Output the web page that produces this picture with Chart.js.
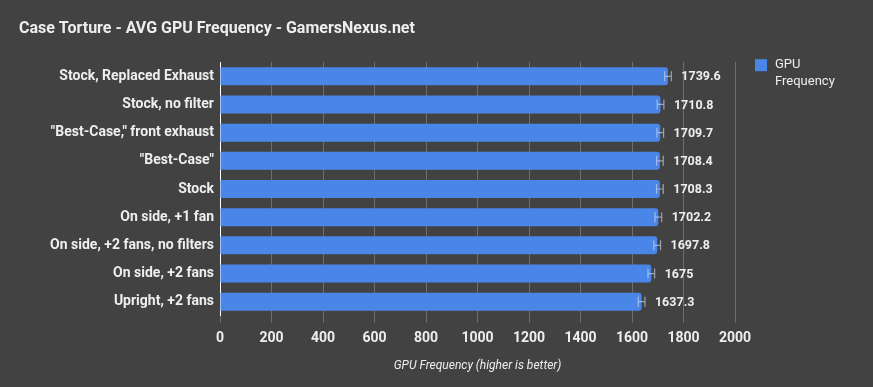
<!DOCTYPE html>
<html>
<head>
<meta charset="utf-8">
<script src="https://cdn.jsdelivr.net/npm/chart.js@4.4.0/dist/chart.umd.min.js"></script>
<style>
  html, body { margin: 0; padding: 0; background: #424242; }
  #wrap { width: 873px; height: 387px; }
</style>
</head>
<body>
<div id="wrap"><canvas id="chart" width="873" height="387"></canvas></div>
<script>
const categories = [
    'Stock, Replaced Exhaust',
    'Stock, no filter',
    '"Best-Case," front exhaust',
    '"Best-Case"',
    'Stock',
    'On side, +1 fan',
    'On side, +2 fans, no filters',
    'On side, +2 fans',
    'Upright, +2 fans'
];
const frequency = [1739.6, 1710.8, 1709.7, 1708.4, 1708.3, 1702.2, 1697.8, 1675, 1637.3];
const errors = [13, 13, 13, 13, 13, 13, 13, 13, 13];
const xTicks = [0, 200, 400, 600, 800, 1000, 1200, 1400, 1600, 1800, 2000];
const legendLines = ['GPU', 'Frequency'];

const textColor = '#eeeeee';
const barColor = '#4a86e8';

// error bars + value labels drawn over the bars
const barExtras = {
    id: 'barExtras',
    afterDatasetsDraw(chart) {
        const { ctx, scales: { x, y } } = chart;
        ctx.save();
        frequency.forEach((v, i) => {
            const yc = y.getPixelForValue(i);
            const x0 = x.getPixelForValue(v - errors[i]);
            const x1 = x.getPixelForValue(v + errors[i]);
            ctx.strokeStyle = 'rgba(205, 215, 240, 0.65)';
            ctx.lineWidth = 1.2;
            ctx.beginPath();
            ctx.moveTo(x0, yc); ctx.lineTo(x1, yc);
            ctx.moveTo(x0, yc - 5); ctx.lineTo(x0, yc + 5);
            ctx.moveTo(x1, yc - 5); ctx.lineTo(x1, yc + 5);
            ctx.stroke();

            ctx.fillStyle = textColor;
            ctx.font = 'bold 12.5px Roboto';
            ctx.textBaseline = 'middle';
            ctx.textAlign = 'left';
            ctx.fillText(String(v), x1 + 10, yc + 1);
        });
        ctx.restore();
    }
};

// legend on the right, label wrapped on two lines
const sideLegend = {
    id: 'sideLegend',
    afterDraw(chart) {
        const { ctx, chartArea } = chart;
        const bx = chartArea.right + 20;
        const by = chartArea.top - 3;
        ctx.save();
        ctx.fillStyle = barColor;
        ctx.fillRect(bx, by, 12, 12);
        ctx.fillStyle = textColor;
        ctx.font = '13px Roboto';
        ctx.textBaseline = 'middle';
        ctx.textAlign = 'left';
        legendLines.forEach((t, i) => ctx.fillText(t, bx + 20, by + 6 + i * 17));
        ctx.restore();
    }
};

const ctx = document.querySelector('#chart').getContext('2d');
new Chart(ctx, {
    type: 'bar',
    data: {
        labels: categories,
        datasets: [{
            label: 'GPU Frequency',
            data: frequency,
            backgroundColor: barColor,
            borderWidth: 0,
            borderRadius: { topRight: 3, bottomRight: 3 },
            borderSkipped: false,
            barPercentage: 0.64,
            categoryPercentage: 1
        }]
    },
    options: {
        indexAxis: 'y',
        responsive: false,
        animation: false,
        layout: { padding: { left: 19, right: 138, top: 0, bottom: 10 } },
        plugins: {
            title: {
                display: true,
                text: 'Case Torture - AVG GPU Frequency - GamersNexus.net',
                align: 'start',
                color: textColor,
                font: { family: 'Roboto', size: 16, weight: 'bold' },
                padding: { top: 19, bottom: 24 }
            },
            legend: { display: false },
            tooltip: { enabled: false }
        },
        scales: {
            x: {
                min: 0,
                max: 2000,
                afterBuildTicks: (axis) => { axis.ticks = xTicks.map(v => ({ value: v })); },
                grid: {
                    color: '#6e6e6e',
                    tickLength: 7,
                    tickColor: '#6e6e6e'
                },
                border: { display: false },
                ticks: {
                    color: textColor,
                    font: { family: 'Roboto', size: 14, weight: 'bold' },
                    padding: 7,
                    callback: (v) => String(v)
                },
                title: {
                    display: true,
                    text: 'GPU Frequency (higher is better)',
                    color: textColor,
                    font: { family: 'Roboto', size: 12, style: 'italic' },
                    padding: { top: 5 }
                }
            },
            y: {
                afterFit: (axis) => { axis.width = 201; },
                grid: { display: false, drawTicks: false },
                border: { display: true, color: '#ffffff', width: 1 },
                ticks: {
                    color: textColor,
                    font: { family: 'Roboto', size: 14, weight: 'bold' },
                    padding: 6
                }
            }
        }
    },
    plugins: [barExtras, sideLegend]
});
</script>
</body>
</html>
